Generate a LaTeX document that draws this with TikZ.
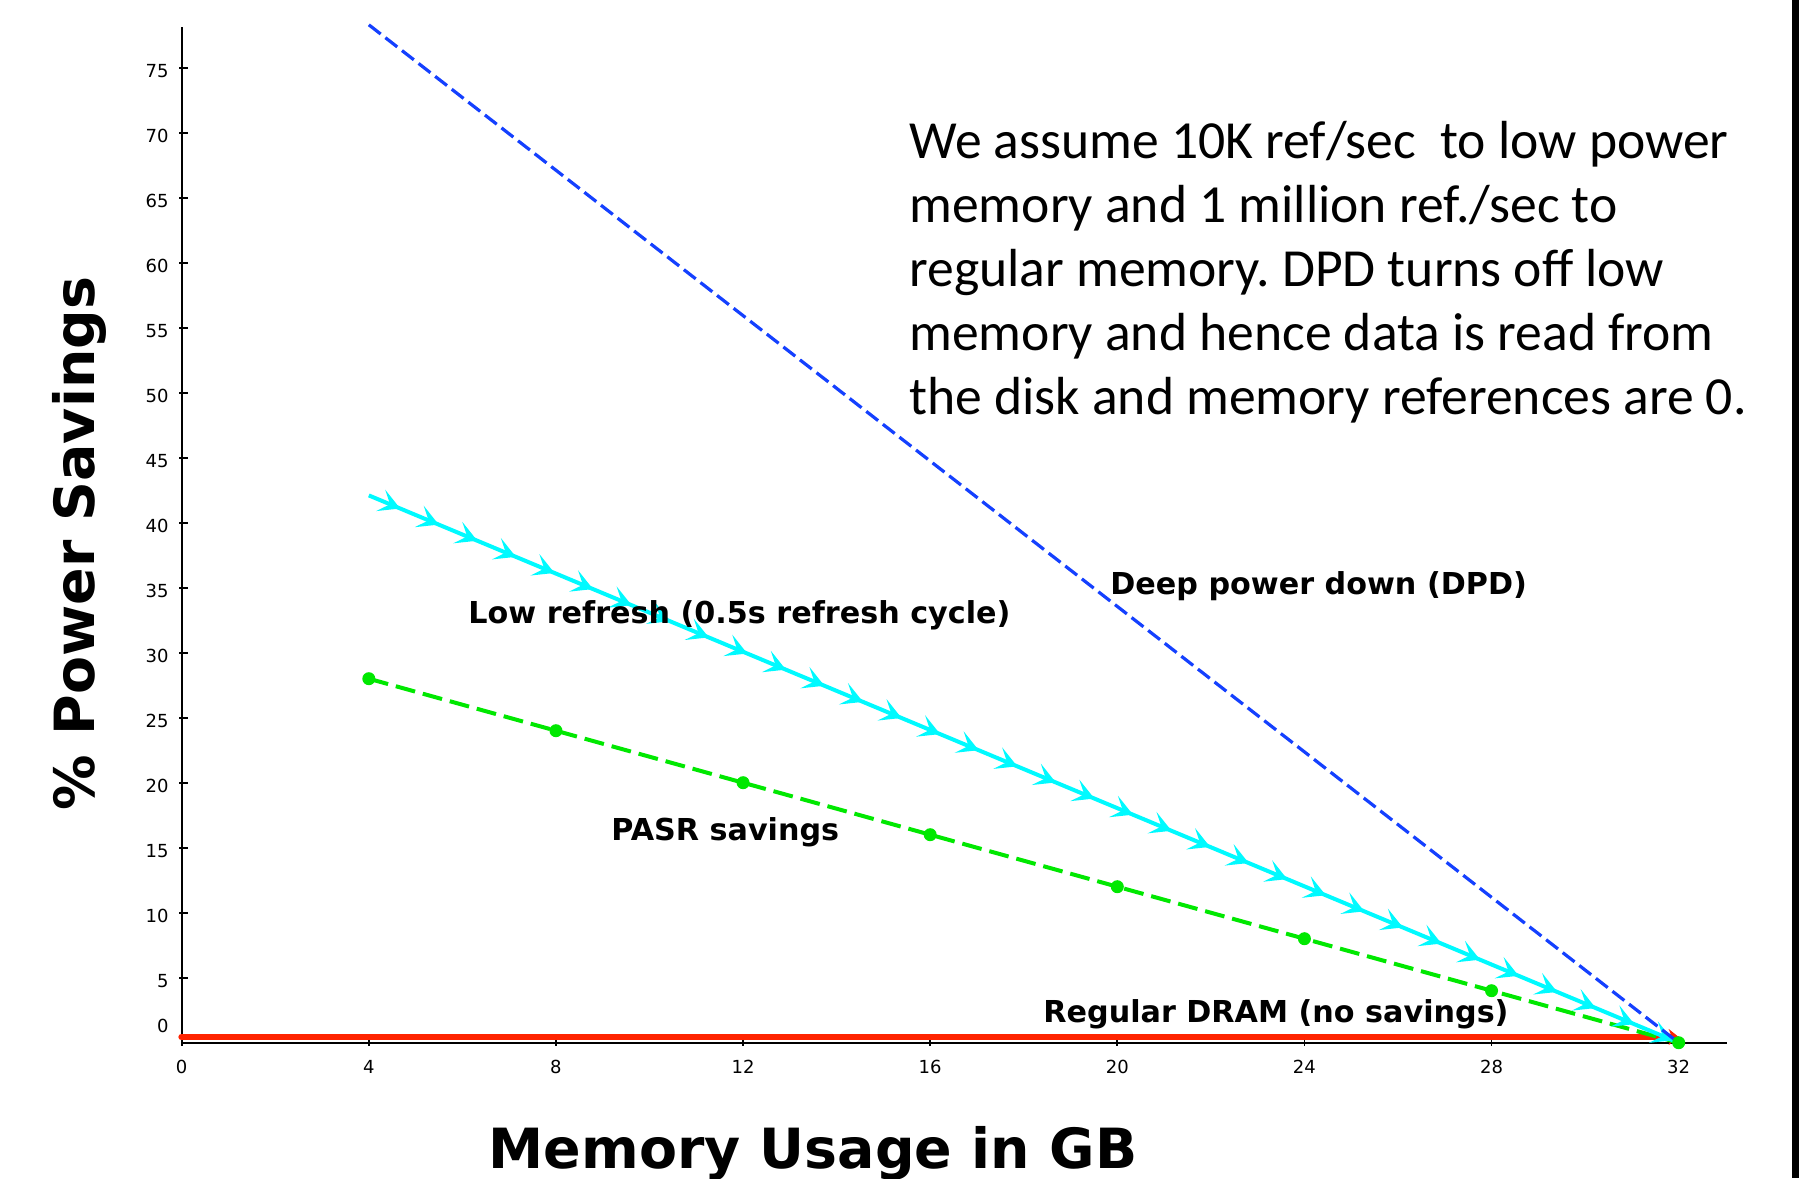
\documentclass[tikz,border=0pt]{standalone}
\usepackage{fontspec}
\setmainfont{DejaVu Sans}
\newfontfamily\parafont{Carlito}
\usetikzlibrary{arrows.meta,decorations.markings}

\definecolor{dpdblue}{RGB}{20,64,255}
\definecolor{lrcyan}{RGB}{0,250,255}
\definecolor{pasrgreen}{RGB}{0,232,0}
\definecolor{dramred}{RGB}{255,36,0}

\begin{document}
\frenchspacing
\begin{tikzpicture}[x=0.5pt,y=-0.5pt,
  axisline/.style={line width=1pt,black},
  tickmark/.style={line width=0.9pt,black},
  ticklabel/.style={font=\fontsize{9}{10}\selectfont,inner sep=0pt},
  curvelabel/.style={font=\fontsize{15.1}{17}\selectfont\bfseries,inner sep=0pt,anchor=base west},
  axistitle/.style={font=\fontsize{27.7}{32}\selectfont\bfseries,inner sep=0pt,anchor=base},
  paraline/.style={font=\parafont\fontsize{26.8}{32}\selectfont,inner sep=0pt,anchor=base west},
  dpdline/.style={dpdblue,line width=1.6pt,dash pattern=on 7.5pt off 3pt},
  lrline/.style={lrcyan,line width=2pt,
    decoration={markings,
      mark=between positions 17pt and 1 step 20.9pt with
        {\arrow{Stealth[length=10.5pt,width=11.5pt,inset=5pt]}}},
    postaction={decorate}},
  pasrline/.style={pasrgreen,line width=2pt,dash pattern=on 10pt off 4pt},
  dramline/.style={dramred,line width=3.4pt,line cap=round,-{Stealth[length=5pt,width=8pt]}},
  pasrdot/.style={circle,fill=pasrgreen,inner sep=0pt,minimum size=6.5pt}
]
% canvas
\useasboundingbox (0,0) rectangle (1799,1178);
\fill[white] (0,0) rectangle (1799,1178);
\fill[black] (1792,0) rectangle (1799,1178);

% axes
\coordinate (ytop) at (181.7,27);
\coordinate (origin) at (181.7,1042.7);
\coordinate (ybottom) at (181.7,1046);
\coordinate (xend) at (1726.7,1042.7);
\draw[axisline] (ytop) -- (ybottom);
\draw[axisline] (origin) -- (xend);

% y ticks and labels
\foreach \v in {5,10,...,75} {
  \draw[tickmark] (179,{1042.7-13*\v}) -- (188,{1042.7-13*\v});
  \node[ticklabel,anchor=east] (yl\v) at (169,{1042.7-13*\v+3}) {\v};
}
\node[ticklabel,anchor=east] (yl0) at (169,1025.7) {0};

% x ticks and labels
\foreach \v in {0,4,...,32} {
  \draw[tickmark] ({181.7+46.78*\v},1040) -- ({181.7+46.78*\v},1046);
  \node[ticklabel] (xl\v) at ({181.7+46.78*\v},1066.5) {\v};
}

% axis titles
\node[axistitle,rotate=90] (ytitle) at (94,543.5) {\% Power Savings};
\node[axistitle] (xtitle) at (813,1168) {Memory Usage in GB};

% data in (GB, percent) units
\begin{scope}[shift={(181.7,1042.7)},x=23.39pt,y=6.5pt]
  \coordinate (end) at (32,0);
  \coordinate (dram0) at (0,0.44);
  \coordinate (dram1) at (32,0.44);
  \coordinate (dpd0) at (4,78.3);
  \coordinate (lr0) at (4,42.1);
  \foreach \g in {4,8,...,32} {
    \coordinate (q\g) at (\g,{32-\g});
  }
  \draw[dramline] (dram0) -- (dram1);
  \draw[pasrline] (q4) -- (q32);
  \draw[lrline] (lr0) -- (end);
  \draw[dpdline] (dpd0) -- (end);
  \foreach \g in {4,8,...,32} {
    \node[pasrdot] (pd\g) at (q\g) {};
  }
\end{scope}

% curve labels
\node[curvelabel] (dpdlabel) at (1110,594) {Deep power down (DPD)};
\node[curvelabel] (lrlabel) at (468,623.5) {Low refresh (0.5s refresh cycle)};
\node[curvelabel] (pasrlabel) at (611,840) {PASR savings};
\node[curvelabel] (dramlabel) at (1043,1022.7) {Regular DRAM (no savings)};

% note
\node[paraline] (note1) at (909,158) {We assume 10K ref/sec\ \ to low power};
\node[paraline] (note2) at (909,222.2) {memory and 1 million ref./sec to};
\node[paraline] (note3) at (909,286.4) {regular memory. DPD turns off low};
\node[paraline] (note4) at (909,350.6) {memory and hence data is read from};
\node[paraline] (note5) at (909,414.8) {the disk and memory references are 0.};
\end{tikzpicture}
\end{document}
